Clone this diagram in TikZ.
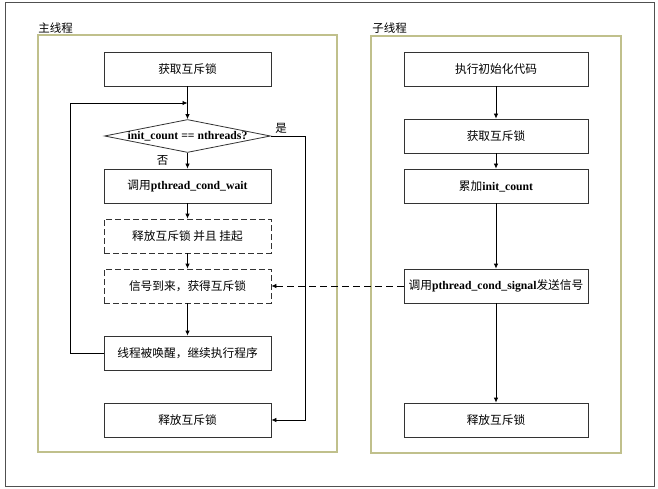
\documentclass[tikz,border=0pt]{standalone}
\usepackage{fontspec}
\setmainfont{Liberation Serif}
\newfontfamily\cjk{Noto Sans CJK SC}
\usetikzlibrary{positioning,shapes.geometric,arrows.meta}
\definecolor{panel}{RGB}{192,192,140}
\definecolor{frame}{RGB}{80,80,80}

\begin{document}
\begin{tikzpicture}[x=1pt,y=-1pt,node distance=50pt,on grid,line width=0.8pt,
		>={Latex[length=5pt,width=4.5pt]},
		proc/.style={draw=black!80,minimum width=167pt,minimum height=34pt,inner sep=1pt,font=\fontsize{11.7}{14}\selectfont},
		dproc/.style={proc,dash pattern=on 6pt off 3pt},
		cond/.style={draw=black!80,diamond,minimum width=166pt,minimum height=33pt,inner sep=0pt,font=\fontsize{11.7}{14}\selectfont\bfseries},
		lbl/.style={inner sep=1pt,font=\cjk\fontsize{11.5}{14}\selectfont}]
		\useasboundingbox (0,0) rectangle (658,489);
		\draw[frame,line width=1pt] (5,3) rectangle (654,486);
		\draw[panel,line width=1.5pt] (38,35) rectangle (337,452);
		\draw[panel,line width=1.5pt] (371,36) rectangle (621,453);
		\node[lbl,anchor=south west] (main) at (37,35) {主线程};
		\node[lbl,anchor=south west] (sub) at (371,35) {子线程};
		% main thread
		\node[proc] (m1) at (187.5,69) {{\cjk 获取互斥锁}};
		\path (m1) ++(0,34) coordinate (back);
		\node[cond] (m2) [below=67pt of m1] {\makebox[0pt]{init\_count == nthreads?}};
		\node[proc] (m3) [below=of m2] {{\cjk 调用}\textbf{pthread\_cond\_wait}};
		\node[dproc] (m4) [below=of m3] {{\cjk 释放互斥锁 并且 挂起}};
		\node[dproc] (m5) [below=of m4] {{\cjk 信号到来，获得互斥锁}};
		\node[proc] (m6) [below=67pt of m5] {{\cjk 线程被唤醒，继续执行程序}};
		\node[proc] (m7) [below=67pt of m6] {{\cjk 释放互斥锁}};
		% sub thread
		\node[proc,minimum width=184pt] (s1) at (496,69) {{\cjk 执行初始化代码}};
		\node[proc,minimum width=184pt] (s2) [below=67pt of s1] {{\cjk 获取互斥锁}};
		\node[proc,minimum width=184pt] (s3) [below=of s2] {{\cjk 累加}\textbf{init\_count}};
		\node[proc,minimum width=184pt] (s4) [below=100pt of s3] {{\cjk 调用}\textbf{pthread\_cond\_signal}{\cjk 发送信号}};
		\node[proc,minimum width=184pt] (s5) [below=134pt of s4] {{\cjk 释放互斥锁}};
		\path[->] 
		(m1) edge (m2)
		(m2) edge node[lbl,xshift=-25pt] {否} (m3)
		(m3) edge (m4)
		(m4) edge (m5)
		(m5) edge (m6)
		(s1) edge (s2)
		(s2) edge (s3)
		(s3) edge (s4)
		(s4) edge (s5)
		(s4) edge [dash pattern=on 7pt off 4pt] (m5);
		\draw[->] (m6.west) -- ++(-33,0) |- (back);
		\draw[->] (m2.east) -- node[lbl,pos=0.3,yshift=8pt] {是} ++(34,0) |- (m7.east);
\end{tikzpicture}
\end{document}
